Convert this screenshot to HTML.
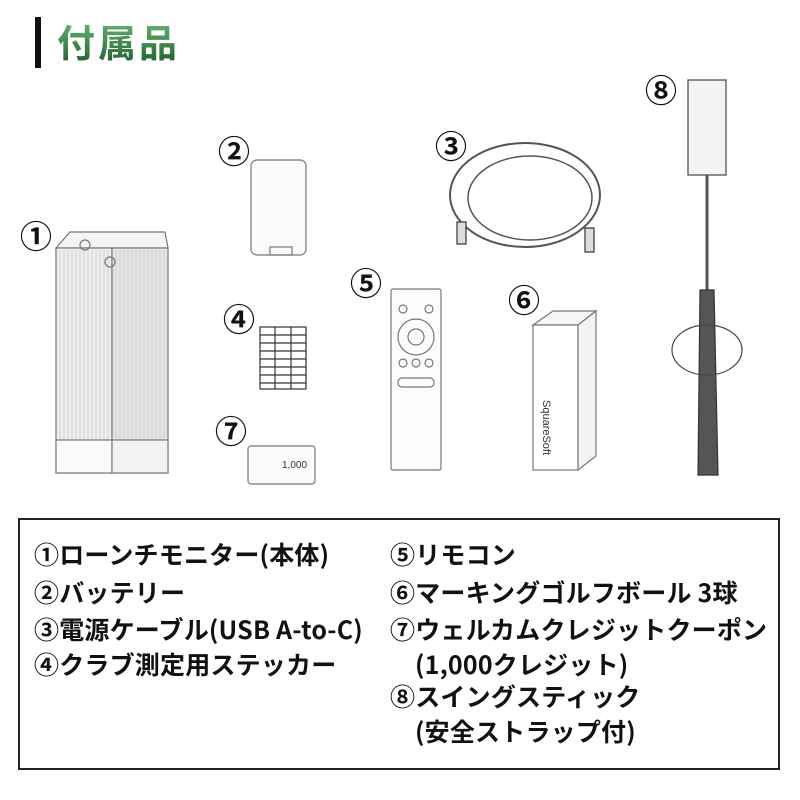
<!DOCTYPE html>
<html><head><meta charset="utf-8"><style>
body{margin:0;width:800px;height:800px;background:#fff;overflow:hidden;position:relative;font-family:"Noto Sans CJK JP",sans-serif}
.bar{position:absolute;left:35px;top:17px;width:6px;height:51px;background:#111}
.title{position:absolute;left:57px;top:16px;font-size:38px;font-weight:bold;line-height:50px;background:linear-gradient(#6cc07a,#1d5e2a);-webkit-background-clip:text;background-clip:text;color:transparent;letter-spacing:3px}
.box{position:absolute;left:18px;top:518px;width:762px;height:252px;border:2px solid #222;box-sizing:border-box}
.t{position:absolute;font-size:25px;font-weight:bold;color:#111;white-space:nowrap;line-height:30px;letter-spacing:0.2px}
svg{position:absolute;left:0;top:0}
</style></head><body>
<div class="bar"></div><div class="title">付属品</div>
<svg width="800" height="510" viewBox="0 0 800 510" font-family="Liberation Sans, sans-serif">
<g font-size="32" font-weight="bold" fill="#111" font-family="Noto Sans CJK JP, sans-serif" text-anchor="middle">
<text x="36" y="248">①</text><text x="234" y="163">②</text><text x="451" y="158">③</text><text x="239" y="331">④</text><text x="366" y="295">⑤</text><text x="524" y="312">⑥</text><text x="231" y="443">⑦</text><text x="661" y="102">⑧</text></g>
<g fill="none" stroke="#777" stroke-width="1.2">
<path d="M56 248 L70 232 L165 232 L168 248 Z" fill="#f4f4f4"/>
<rect x="56" y="248" width="56" height="225" fill="#eee"/>
<rect x="112" y="248" width="56" height="225" fill="#e4e4e4"/>
<path d="M60 250v190M64 250v190M68 250v190M72 250v190M76 250v190M80 250v190M84 250v190M88 250v190M92 250v190M96 250v190M100 250v190M104 250v190M108 250v190M116 250v190M120 250v190M124 250v190M128 250v190M132 250v190M136 250v190M140 250v190M144 250v190M148 250v190M152 250v190M156 250v190M160 250v190M164 250v190" stroke="#ccc" stroke-width="0.8"/>
<rect x="56" y="440" width="56" height="33" fill="#fafafa"/><rect x="112" y="440" width="56" height="33" fill="#f2f2f2"/>
<circle cx="85" cy="245" r="5"/><circle cx="110" cy="262" r="5"/>
<rect x="251" y="160" width="55" height="95" rx="6" fill="#fafafa"/>
<rect x="270" y="247" width="22" height="8"/>
<ellipse cx="525" cy="195" rx="75" ry="52" stroke="#555" stroke-width="2"/>
<ellipse cx="530" cy="198" rx="62" ry="42" stroke="#555" stroke-width="1.5"/>
<rect x="457" y="222" width="9" height="22" stroke="#333" fill="#ddd"/>
<rect x="585" y="228" width="9" height="24" stroke="#333" fill="#ddd"/>
<rect x="260" y="327" width="46" height="62" fill="#fff" stroke="#333"/>
<path d="M260 335h46M260 343h46M260 351h46M260 359h46M260 367h46M260 375h46M260 383h46M275 327v62M291 327v62" stroke="#333"/>
<rect x="391" y="289" width="50" height="181" rx="2" fill="#fcfcfc"/>
<circle cx="416" cy="337" r="18"/><circle cx="416" cy="337" r="8"/>
<circle cx="403" cy="309" r="4"/><circle cx="429" cy="309" r="4"/>
<circle cx="403" cy="363" r="4"/><circle cx="416" cy="363" r="4"/><circle cx="429" cy="363" r="4"/>
<rect x="398" y="378" width="36" height="9" rx="4"/>
<path d="M533 325 L553 311 L596 311 L578 325 Z" fill="#f6f6f6"/>
<rect x="533" y="325" width="45" height="145" fill="#fff"/>
<path d="M578 325 L596 311 L596 456 L578 470 Z" fill="#f3f3f3"/>
<rect x="248" y="446" width="67" height="38" rx="3" fill="#fafafa"/>
<rect x="688" y="80" width="38" height="95" fill="#f3f3f3" stroke="#444"/>
<path d="M707 175 V290" stroke="#555" stroke-width="3"/>
<path d="M700 290 L714 290 L718 475 L698 475 Z" fill="#555" stroke="#333"/>
<ellipse cx="707" cy="350" rx="35" ry="25" stroke="#444"/>
</g>
<g font-size="10" fill="#333"><text x="282" y="468">1,000</text><text x="543" y="400" transform="rotate(90 543 400)" font-size="11">SquareSoft</text></g>
</svg>
<div class="box"></div>
<div class="t" style="left:34px;top:539px">①ローンチモニター(本体)</div>
<div class="t" style="left:34px;top:577px">②バッテリー</div>
<div class="t" style="left:34px;top:614px">③電源ケーブル(USB A-to-C)</div>
<div class="t" style="left:34px;top:649px">④クラブ測定用ステッカー</div>
<div class="t" style="left:390px;top:539px">⑤リモコン</div>
<div class="t" style="left:390px;top:577px">⑥マーキングゴルフボール 3球</div>
<div class="t" style="left:390px;top:614px">⑦ウェルカムクレジットクーポン</div>
<div class="t" style="left:415px;top:649px">(1,000クレジット)</div>
<div class="t" style="left:390px;top:681px">⑧スイングスティック</div>
<div class="t" style="left:415px;top:716px">(安全ストラップ付)</div>
</body></html>
